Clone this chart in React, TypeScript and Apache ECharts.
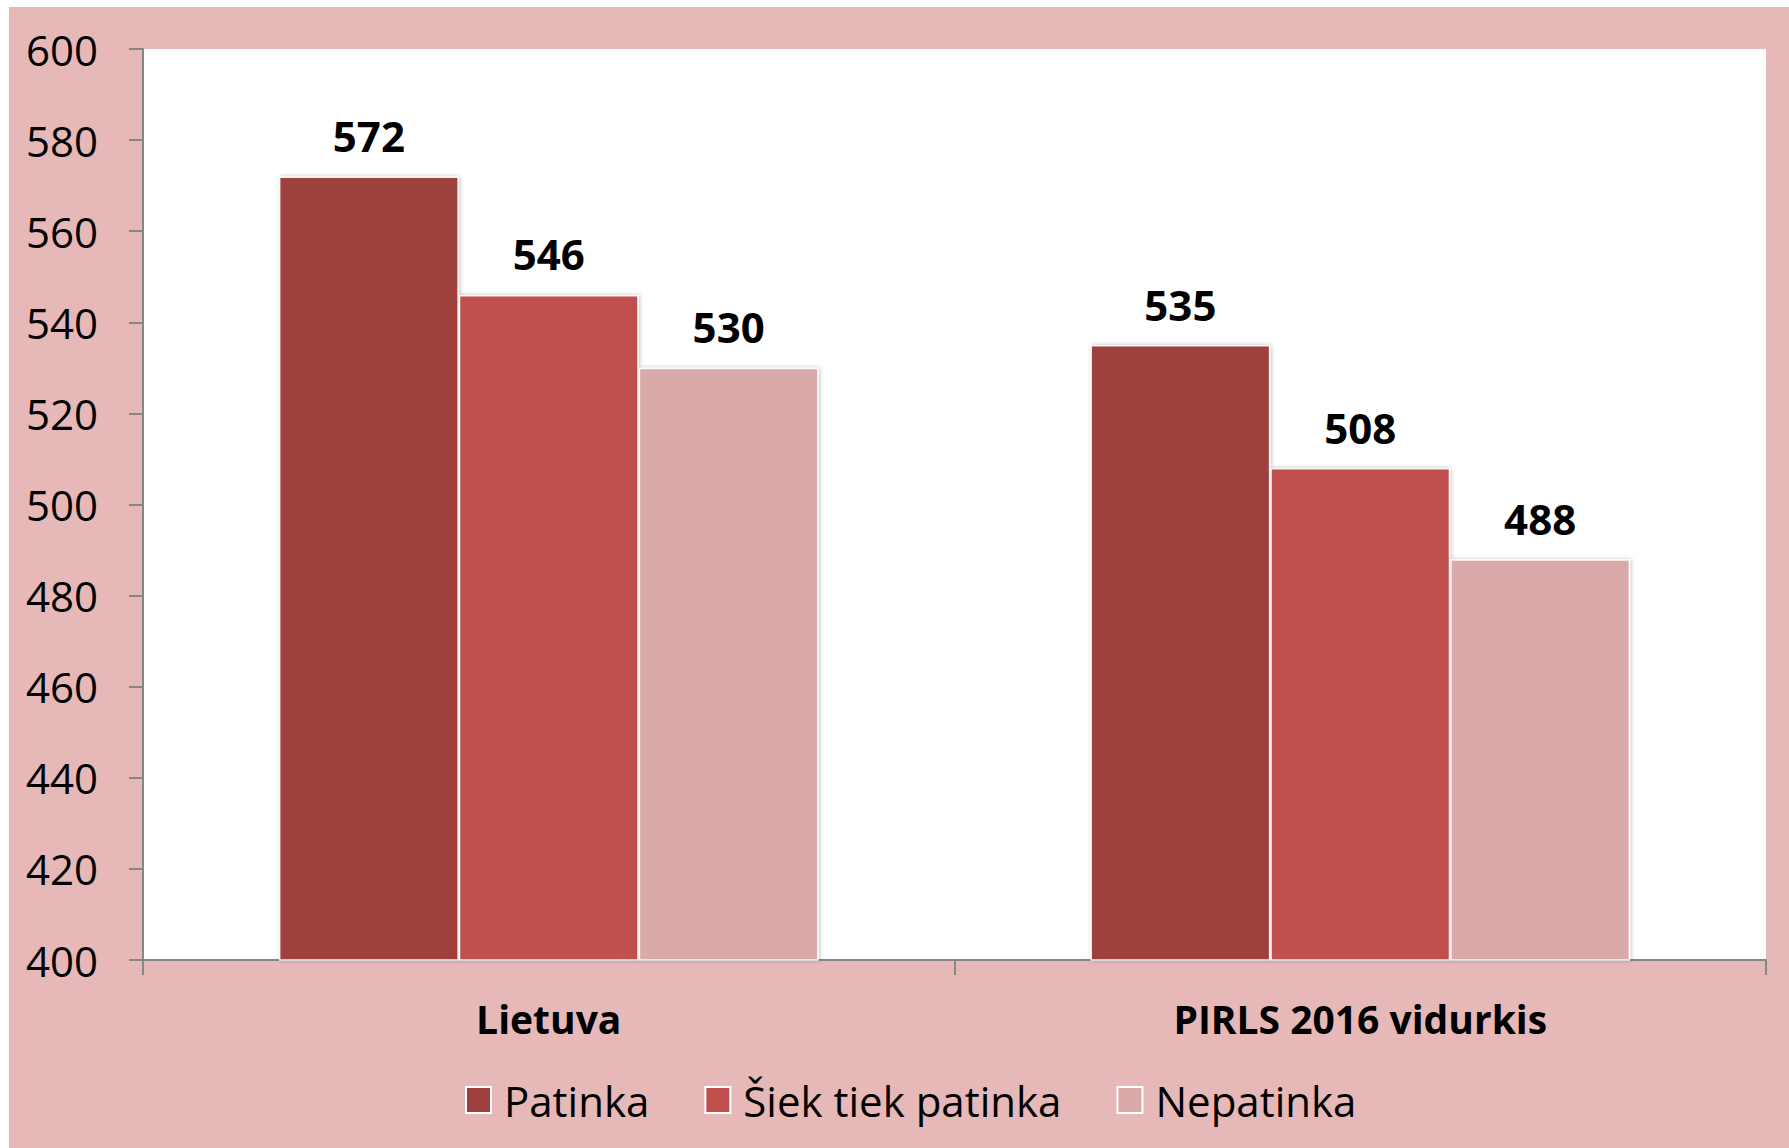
import React, { useEffect, useRef } from "react";
import * as echarts from "echarts";

const categories = ["Lietuva", "PIRLS 2016 vidurkis"];
const seriesNames = ["Patinka", "Šiek tiek patinka", "Nepatinka"];
const patinka = [572, 535];
const siekTiek = [546, 508];
const nepatinka = [530, 488];
const seriesColors = ["#9E403E", "#C0504D", "#DAA9A9"];
const yMin = 400;
const yMax = 600;
const yStep = 20;

export default function App() {
  const ref = useRef<HTMLDivElement>(null);
  useEffect(() => {
    if (!ref.current) return;
    const chart = echarts.init(ref.current, undefined, { renderer: "svg" });
    const font = "'Open Sans', sans-serif";
    const values = [patinka, siekTiek, nepatinka];
    chart.setOption({
      animation: false,
      backgroundColor: "#E6B8B7",
      textStyle: { fontFamily: font, color: "#000" },
      grid: {
        left: 134,
        top: 42,
        right: 23,
        bottom: 188,
        show: true,
        backgroundColor: "#FFFFFF",
        borderWidth: 0,
        containLabel: false,
      },
      legend: {
        bottom: 22,
        left: 451,
        itemWidth: 25,
        itemHeight: 26,
        itemGap: 55,
        icon: "rect",
        data: seriesNames,
        textStyle: {
          fontFamily: font,
          fontSize: 42,
          color: "#000",
          padding: [0, 0, 0, 8],
        },
        itemStyle: { borderColor: "#FFFFFF", borderWidth: 2 },
      },
      xAxis: {
        type: "category",
        data: categories,
        axisLine: { show: true, lineStyle: { color: "#868686", width: 2 } },
        axisTick: { show: true, length: 15, lineStyle: { color: "#868686", width: 2 } },
        axisLabel: {
          fontFamily: font,
          fontSize: 39,
          fontWeight: "bold",
          color: "#000",
          margin: 39,
        },
        splitLine: { show: false },
      },
      yAxis: {
        type: "value",
        min: yMin,
        max: yMax,
        interval: yStep,
        axisLine: { show: true, lineStyle: { color: "#868686", width: 2 } },
        axisTick: { show: true, length: 14, lineStyle: { color: "#868686", width: 2 } },
        axisLabel: {
          fontFamily: font,
          fontSize: 42,
          color: "#000",
          margin: 45,
        },
        splitLine: { show: false },
      },
      series: seriesNames.map((name, i) => ({
        name,
        type: "bar",
        data: values[i],
        barGap: "0%",
        barCategoryGap: "33.5%",
        itemStyle: {
          color: seriesColors[i],
          borderColor: "rgba(255,255,255,0.9)",
          borderWidth: 1.5,
          shadowColor: "rgba(0,0,0,0.25)",
          shadowBlur: 4,
          shadowOffsetX: 1,
        },
        label: {
          show: true,
          position: "top",
          distance: 20,
          fontFamily: font,
          fontSize: 42,
          fontWeight: "bold",
          color: "#000",
        },
      })),
    });
    return () => chart.dispose();
  }, []);
  return (
    <div
      ref={ref}
      style={{ position: "absolute", left: 9, top: 7, width: 1780, height: 1141 }}
    />
  );
}
